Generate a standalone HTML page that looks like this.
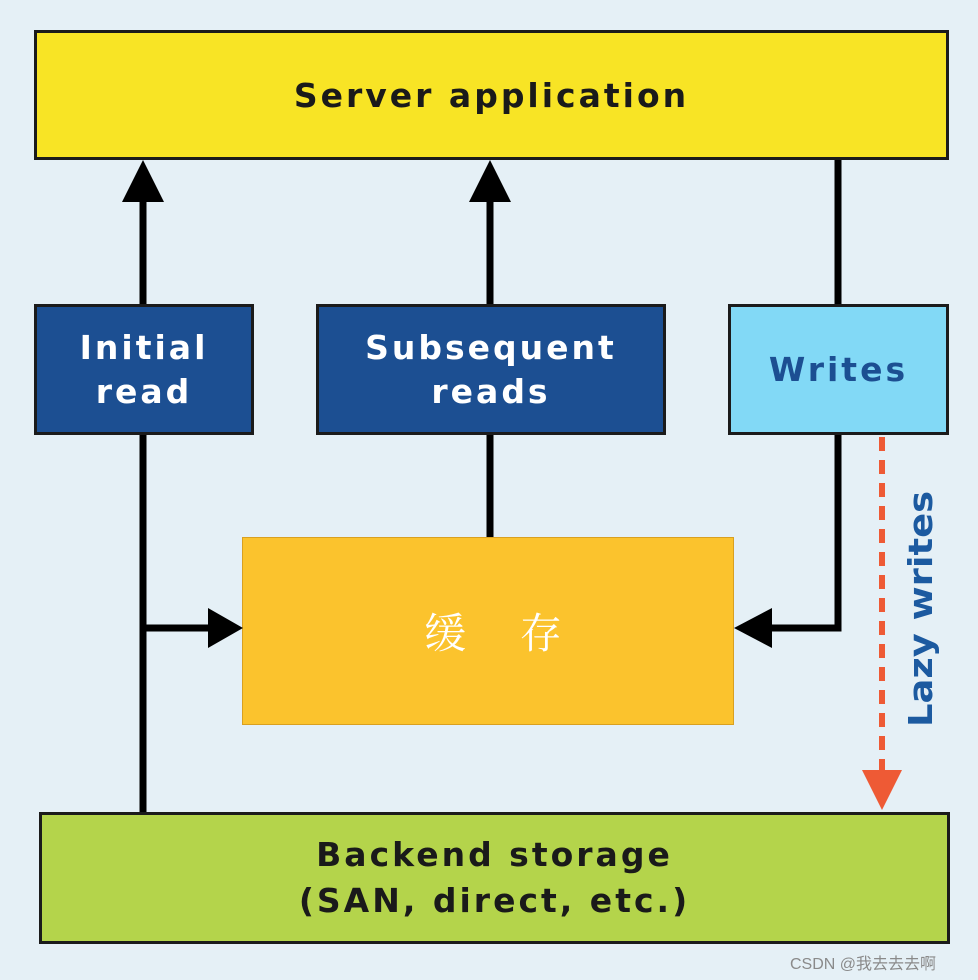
<!DOCTYPE html>
<html><head><meta charset="utf-8"><style>
body{margin:0;width:978px;height:980px;background:#e5f0f6;position:relative;overflow:hidden;font-family:"DejaVu Sans","Liberation Sans",sans-serif;}
.b{position:absolute;box-sizing:border-box;border:3px solid #1b1b1b;display:flex;align-items:center;justify-content:center;text-align:center;font-weight:bold;letter-spacing:3px;}
</style></head><body>
<div class="b" style="left:34px;top:30px;width:915px;height:130px;background:#f8e425;font-size:33px;color:#1a1a1a">Server application</div>
<div class="b" style="left:34px;top:304px;width:220px;height:131px;background:#1c4f92;color:#fff;font-size:33px;line-height:44px">Initial<br>read</div>
<div class="b" style="left:316px;top:304px;width:350px;height:131px;background:#1c4f92;color:#fff;font-size:33px;line-height:44px">Subsequent<br>reads</div>
<div class="b" style="left:728px;top:304px;width:221px;height:131px;background:#82d9f6;color:#1c4f92;font-size:33px">Writes</div>
<div class="b" style="left:242px;top:537px;width:492px;height:188px;background:#fbc32d;border:1px solid #d9a020;color:#fff;font-weight:normal;letter-spacing:0;font-family:'Noto Serif CJK SC','Noto Sans CJK SC',serif;font-size:42px;padding-left:10px">缓&nbsp;&nbsp;&nbsp;&nbsp;&nbsp;存</div>
<div class="b" style="left:39px;top:812px;width:911px;height:132px;background:#b4d44b;font-size:33px;line-height:46px;color:#1a1a1a">Backend storage<br>(SAN, direct, etc.)</div>
<svg width="978" height="980" style="position:absolute;left:0;top:0">
<g stroke="#000" stroke-width="7" fill="none">
<line x1="143" y1="200" x2="143" y2="304"/>
<line x1="490" y1="200" x2="490" y2="304"/>
<line x1="838" y1="160" x2="838" y2="304"/>
<line x1="143" y1="435" x2="143" y2="812"/>
<line x1="143" y1="628" x2="212" y2="628"/>
<line x1="490" y1="435" x2="490" y2="537"/>
<polyline points="838,435 838,628 772,628"/>
</g>
<g fill="#000">
<polygon points="143,160 122,202 164,202"/>
<polygon points="490,160 469,202 511,202"/>
<polygon points="243,628 208,608 208,648"/>
<polygon points="734,628 772,608 772,648"/>
</g>
<line x1="882" y1="437" x2="882" y2="772" stroke="#ee5a35" stroke-width="6" stroke-dasharray="14,9"/>
<polygon points="882,810 862,770 902,770" fill="#ee5a35"/>
<text transform="translate(932,727) rotate(-90)" font-family="DejaVu Sans,sans-serif" font-weight="bold" font-size="33" fill="#1c5aa0" textLength="236" lengthAdjust="spacingAndGlyphs">Lazy writes</text>
<text x="790" y="969" font-family="Liberation Sans,'Noto Sans CJK SC',sans-serif" font-size="16" fill="#8a8a8a">CSDN @我去去去啊</text>
</svg>
</body></html>
